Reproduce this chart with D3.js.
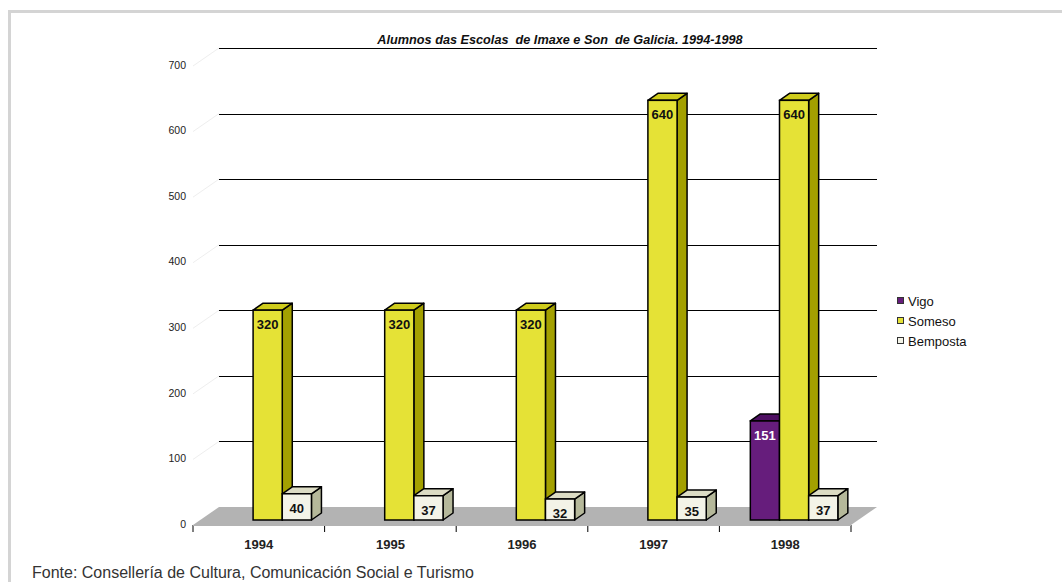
<!DOCTYPE html>
<html>
<head>
<meta charset="utf-8">
<script src="https://cdn.jsdelivr.net/npm/d3@7"></script>
<style>
  body { margin: 0; background: #fff; }
  text { font-family: "Liberation Sans", Arial, sans-serif; }
</style>
</head>
<body>
<div id="chart"></div>
<script>
const years = ["1994", "1995", "1996", "1997", "1998"];
const series = ["Vigo", "Someso", "Bemposta"];
const vigo = [0, 0, 0, 0, 151];
const someso = [320, 320, 320, 640, 640];
const bemposta = [40, 37, 32, 35, 37];
const yTicks = [0, 100, 200, 300, 400, 500, 600, 700];

const width = 1062, height = 582;
const depth = { dx: 26, dy: -18 };   // wall depth
const barDepth = { dx: 10, dy: -7 };
const floorY = 525;

const colors = {
    Vigo: { front: "#661d7c", top: "#4e0f62", side: "#3f0a50", legend: "#661d7c" },
    Someso: { front: "#e5e236", top: "#cfcc1c", side: "#a3a000", legend: "#e5e236" },
    Bemposta: { front: "#f3f3e7", top: "#dcdcc4", side: "#b5b89a", legend: "#f3f3e7" }
};

const rows = years.map((yr, i) => ({
    year: yr,
    Vigo: vigo[i],
    Someso: someso[i],
    Bemposta: bemposta[i]
}));

const svg = d3.select("#chart").append("svg")
    .attr("width", width)
    .attr("height", height);

// light frame (top + left)
svg.append("path")
    .attr("d", `M9.5,${height} V11.5 H${width}`)
    .attr("fill", "none")
    .attr("stroke", "#d4d4d4")
    .attr("stroke-width", 3);

const x = d3.scaleBand()
    .domain(years)
    .range([193, 851]);

const x1 = d3.scaleBand()
    .domain(series)
    .range([x.bandwidth() * 0.235, x.bandwidth() * 0.9]);

const y = d3.scaleLinear()
    .domain([0, 700])
    .range([floorY, floorY - 459]);

// bars sit slightly inside the floor
const barBase = 520;
const yBar = d3.scaleLinear()
    .domain([0, 700])
    .range([barBase, barBase - 459]);

// floor
const x0 = x.range()[0], xN = x.range()[1];
svg.append("polygon")
    .attr("points", [
        [x0, floorY], [xN, floorY],
        [xN + depth.dx, floorY + depth.dy], [x0 + depth.dx, floorY + depth.dy]
    ].map(p => p.join(",")).join(" "))
    .attr("fill", "#b3b3b3");

// faint side wall edges
svg.append("g")
    .selectAll("line")
    .data(yTicks.filter(d => d > 0))
    .join("line")
    .attr("x1", x0)
    .attr("y1", d => y(d))
    .attr("x2", x0 + depth.dx)
    .attr("y2", d => y(d) + depth.dy)
    .attr("stroke", "#eeeeee");

// back wall gridlines
svg.append("g")
    .selectAll("line")
    .data(yTicks.filter(d => d > 0))
    .join("line")
    .attr("x1", x0 + depth.dx)
    .attr("x2", xN + depth.dx)
    .attr("y1", d => Math.round(y(d) + depth.dy) + 0.5)
    .attr("y2", d => Math.round(y(d) + depth.dy) + 0.5)
    .attr("stroke", "#000")
    .attr("stroke-width", 1);

// y tick labels
svg.append("g")
    .attr("font-size", 10.5)
    .attr("fill", "#222")
    .attr("text-anchor", "end")
    .selectAll("text")
    .data(yTicks)
    .join("text")
    .attr("x", 186)
    .attr("y", d => y(d) - 1)
    .attr("dy", "0.35em")
    .text(d => d);

// x axis
const xAxis = g => g
    .attr("transform", `translate(0,${floorY})`)
    .call(d3.axisBottom(x).tickSize(0).tickPadding(15))
    .call(g => g.select(".domain").remove())
    .call(g => g.selectAll(".tick text")
        .attr("font-size", 13)
        .attr("font-weight", "bold")
        .attr("fill", "#222")
        .style("font-family", "'Liberation Sans', Arial, sans-serif"));

svg.append("g").call(xAxis);

svg.append("g")
    .attr("stroke", "#000")
    .selectAll("line")
    .data(years.concat(["end"]))
    .join("line")
    .attr("x1", d => d === "end" ? xN : x(d))
    .attr("x2", d => d === "end" ? xN : x(d))
    .attr("y1", floorY)
    .attr("y2", floorY + 7);

svg.append("line")
    .attr("x1", x0).attr("x2", xN)
    .attr("y1", floorY + 0.5).attr("y2", floorY + 0.5)
    .attr("stroke", "#b3b3b3");

// 3d bars
const bars = [];
rows.forEach(r => {
    series.forEach(s => {
        if (r[s] > 0) bars.push({ year: r.year, key: s, value: r[s] });
    });
});

const barG = svg.append("g")
    .selectAll("g")
    .data(bars)
    .join("g")
    .attr("transform", d => `translate(${x(d.year) + x1(d.key)},0)`);

const bw = x1.bandwidth();

barG.append("polygon") // side
    .attr("points", d => {
        const t = yBar(d.value);
        return [[bw, barBase], [bw + barDepth.dx, barBase + barDepth.dy],
            [bw + barDepth.dx, t + barDepth.dy], [bw, t]].map(p => p.join(",")).join(" ");
    })
    .attr("fill", d => colors[d.key].side)
    .attr("stroke", "#000")
    .attr("stroke-width", 1.5)
    .attr("stroke-linejoin", "round");

barG.append("polygon") // top
    .attr("points", d => {
        const t = yBar(d.value);
        return [[0, t], [barDepth.dx, t + barDepth.dy],
            [bw + barDepth.dx, t + barDepth.dy], [bw, t]].map(p => p.join(",")).join(" ");
    })
    .attr("fill", d => colors[d.key].top)
    .attr("stroke", "#000")
    .attr("stroke-width", 1.5)
    .attr("stroke-linejoin", "round");

barG.append("rect") // front
    .attr("x", 0)
    .attr("y", d => yBar(d.value))
    .attr("width", bw)
    .attr("height", d => barBase - yBar(d.value))
    .attr("fill", d => colors[d.key].front)
    .attr("stroke", "#000")
    .attr("stroke-width", 1.5);

barG.append("text")
    .attr("x", bw / 2)
    .attr("y", d => yBar(d.value) + 19)
    .attr("text-anchor", "middle")
    .attr("font-size", 13)
    .attr("font-weight", "bold")
    .attr("fill", d => d.key === "Vigo" ? "#fff" : "#111")
    .text(d => d.value);

// title
svg.append("text")
    .attr("x", 560)
    .attr("y", 44)
    .attr("text-anchor", "middle")
    .attr("font-size", 12.7)
    .attr("font-weight", "bold")
    .attr("font-style", "italic")
    .style("white-space", "pre")
    .attr("fill", "#111")
    .text("Alumnos das Escolas  de Imaxe e Son  de Galicia. 1994-1998");

// legend
const legend = svg.append("g")
    .attr("transform", "translate(897,301)")
    .selectAll("g")
    .data(series)
    .join("g")
    .attr("transform", (d, i) => `translate(0,${i * 20})`);

legend.append("rect")
    .attr("x", 0.5).attr("y", -3.5)
    .attr("width", 6).attr("height", 6)
    .attr("fill", d => colors[d].legend)
    .attr("stroke", "#333");

legend.append("text")
    .attr("x", 11)
    .attr("y", 0)
    .attr("dy", "0.35em")
    .attr("font-size", 13)
    .attr("fill", "#111")
    .text(d => d);

// source
svg.append("text")
    .attr("x", 32)
    .attr("y", 578)
    .attr("font-size", 16)
    .attr("fill", "#333")
    .text("Fonte: Consellería de Cultura, Comunicación Social e Turismo");
</script>
</body>
</html>
